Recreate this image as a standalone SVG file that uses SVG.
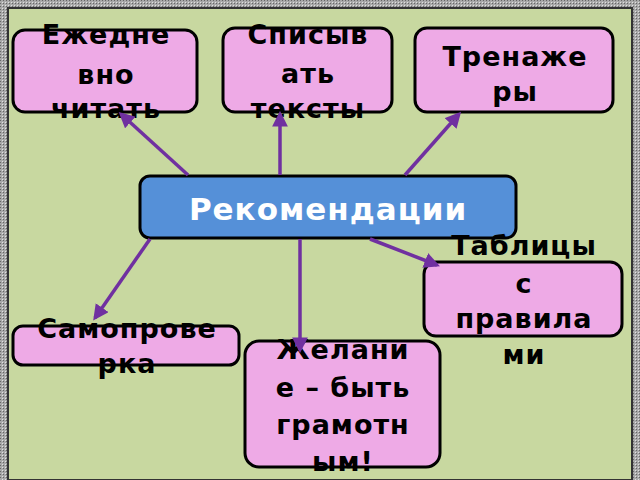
<svg xmlns="http://www.w3.org/2000/svg" width="640" height="480" viewBox="0 0 640 480">
<defs>
<pattern id="h" width="3" height="3" patternUnits="userSpaceOnUse"><rect width="3" height="3" fill="#a8a8a8"/><rect width="1" height="1" fill="#666"/><rect x="2" y="2" width="1" height="1" fill="#e0e0e0"/></pattern>
<marker id="a" viewBox="0 0 10 10" refX="8" refY="5" markerWidth="4.5" markerHeight="4.5" orient="auto"><path d="M0,0L10,5L0,10z" fill="#7030a0"/></marker>
</defs>
<style>
.n{fill:#eeaae6;stroke:#000;stroke-width:3}
.t{font-family:"DejaVu Sans",sans-serif;font-weight:bold;font-size:27px;letter-spacing:1px;text-anchor:middle;fill:#000}
.c line{stroke:#7030a0;stroke-width:3.5;marker-end:url(#a)}
</style>
<rect width="640" height="480" fill="url(#h)"/>
<rect x="8" y="8" width="624" height="472" fill="#c8d8a0" stroke="#333" stroke-width="2"/>
<g id="n1"><rect class="n" x="13" y="30" width="184" height="82" rx="12"/><text class="t" x="105"><tspan x="106" y="44">Ежедне</tspan><tspan x="106" y="84">вно</tspan><tspan x="106" y="118">читать</tspan></text></g>
<g id="n2"><rect class="n" x="223" y="28" width="169" height="84" rx="12"/><text class="t"><tspan x="308" y="44">Списыв</tspan><tspan x="308" y="83">ать</tspan><tspan x="308" y="118">тексты</tspan></text></g>
<g id="n3"><rect class="n" x="415" y="28" width="198" height="84" rx="12"/><text class="t"><tspan x="515" y="66">Тренаже</tspan><tspan x="515" y="101">ры</tspan></text></g>
<g id="center"><rect x="140" y="176" width="376" height="62" rx="10" fill="#5590d8" stroke="#000" stroke-width="3"/><text class="t" x="328" y="220" style="fill:#fff;font-size:31px">Рекомендации</text></g>
<g id="n5"><rect class="n" x="424" y="262" width="198" height="74" rx="12"/><text class="t"><tspan x="524" y="255">Таблицы</tspan><tspan x="524" y="293">с</tspan><tspan x="524" y="328">правила</tspan><tspan x="524" y="364">ми</tspan></text></g>
<g id="n6"><rect class="n" x="13" y="326" width="226" height="39" rx="10"/><text class="t"><tspan x="127" y="338">Самопрове</tspan><tspan x="127" y="373">рка</tspan></text></g>
<g id="n7"><rect class="n" x="245" y="341" width="195" height="126" rx="14"/><text class="t"><tspan x="343" y="359">Желани</tspan><tspan x="343" y="397">е – быть</tspan><tspan x="343" y="434">грамотн</tspan><tspan x="343" y="471">ым!</tspan></text></g>
<g class="c" id="connectors">
<line x1="188" y1="175" x2="121" y2="114"/>
<line x1="280" y1="175" x2="280" y2="114"/>
<line x1="405" y1="175" x2="459" y2="114"/>
<line x1="370" y1="239" x2="437" y2="265"/>
<line x1="150" y1="239" x2="95" y2="318"/>
<line x1="300" y1="239" x2="300" y2="350"/>
</g>
</svg>
